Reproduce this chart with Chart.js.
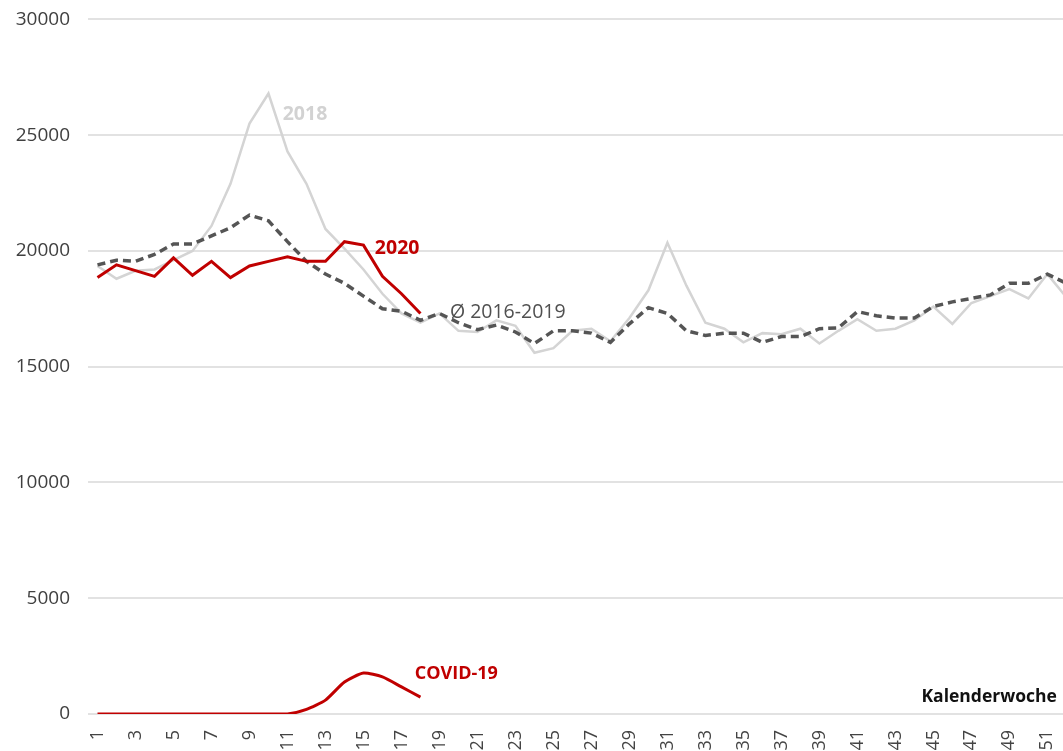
<!DOCTYPE html>
<html>
<head>
<meta charset="utf-8">
<script src="https://cdn.jsdelivr.net/npm/chart.js@4"></script>
<style>
  html, body { margin: 0; padding: 0; overflow: hidden; background: #fff; }
  #wrap { width: 1063px; height: 751px; overflow: hidden; position: relative; }
  canvas { position: absolute; left: 0; top: -10px; }
</style>
</head>
<body>
<div id="wrap"><canvas id="myChart" width="1104" height="785"></canvas></div>
<script>
// weeks 1..52
const weeks = []
for (let w = 1; w <= 52; w++) weeks.push(String(w))

const yTicks = [0, 5000, 10000, 15000, 20000, 25000, 30000]

const values2020 = [18850, 19400, 19150, 18900, 19700, 18950, 19550, 18850, 19350, 19550,
    19750, 19550, 19550, 20400, 20250, 18900, 18150, 17300]

const valuesCovid = [0, 0, 0, 0, 0, 0, 0, 0, 0, 0, 0, 200, 600, 1380, 1770, 1600, 1170, 730]

const valuesAvg = [19400, 19600, 19550, 19850, 20300, 20300, 20650, 21000, 21550, 21300,
    20400, 19550, 19000, 18600, 18050, 17500, 17400, 17000, 17300, 16900,
    16600, 16800, 16500, 16000, 16550, 16550, 16450, 16050, 16850, 17550,
    17300, 16550, 16350, 16450, 16450, 16050, 16300, 16300, 16640, 16680,
    17380, 17200, 17100, 17100, 17600, 17800, 17950, 18100, 18600, 18600,
    19000, 18600]

const values2018 = [19350, 18800, 19140, 19200, 19600, 20000, 21080, 22900, 25500, 26800,
    24300, 22900, 20950, 20100, 19200, 18150, 17300, 16900, 17300, 16550,
    16500, 17000, 16770, 15600, 15800, 16550, 16640, 16100, 17100, 18300,
    20350, 18500, 16900, 16640, 16050, 16450, 16400, 16640, 16000, 16550,
    17050, 16550, 16640, 17000, 17600, 16850, 17750, 18050, 18350, 17950,
    19000, 18000]

const fontName = "'Open Sans', sans-serif"

// text labels next to the lines
const notes = [
    { text: '2018', week: 10.75, value: 25900, color: '#d2d2d2', weight: 'bold', size: 19.5, align: 'left' },
    { text: '2020', week: 15.6, value: 20100, color: '#c00000', weight: 'bold', size: 19.5, align: 'left' },
    { text: 'Ø 2016-2019', week: 19.55, value: 17330, color: '#505050', weight: 'normal', size: 19.5, align: 'left' },
    { text: 'COVID-19', week: 17.7, value: 1720, color: '#c00000', weight: 'bold', size: 18, align: 'left' },
    { text: 'Kalenderwoche', week: 51.5, value: 730, color: '#111111', weight: 'bold', size: 17.5, align: 'right' }
]

const notesPlugin = {
    id: 'notes',
    afterDatasetsDraw(chart) {
        const ctx = chart.ctx
        const xs = chart.scales.x
        const ys = chart.scales.y
        const x0 = xs.getPixelForValue(0)
        const step = xs.getPixelForValue(1) - x0
        ctx.save()
        notes.forEach(n => {
            ctx.font = n.weight + ' ' + n.size + 'px ' + fontName
            ctx.fillStyle = n.color
            ctx.textAlign = n.align
            ctx.textBaseline = 'middle'
            ctx.fillText(n.text, x0 + (n.week - 1) * step, ys.getPixelForValue(n.value))
        })
        ctx.restore()
    }
}

const myChart = new Chart(document.getElementById('myChart'), {
    type: 'line',
    data: {
        labels: weeks,
        datasets: [{
            label: '2020',
            data: values2020,
            borderColor: '#c00000',
            borderWidth: 3,
            pointRadius: 0,
            tension: 0
        }, {
            label: 'COVID-19',
            data: valuesCovid,
            borderColor: '#c00000',
            borderWidth: 3,
            pointRadius: 0,
            tension: 0.2
        }, {
            label: 'Ø 2016-2019',
            data: valuesAvg,
            borderColor: '#555555',
            borderWidth: 3.5,
            borderDash: [8, 5],
            pointRadius: 0,
            tension: 0
        }, {
            label: '2018',
            data: values2018,
            borderColor: '#d4d4d4',
            borderWidth: 2.5,
            pointRadius: 0,
            tension: 0
        }]
    },
    options: {
        responsive: false,
        animation: false,
        layout: { padding: { top: 8, right: 4, left: 0, bottom: 0 } },
        plugins: {
            legend: { display: false },
            tooltip: { enabled: false }
        },
        scales: {
            x: {
                offset: true,
                grid: { display: false, drawTicks: false },
                border: { display: false },
                afterFit(scale) { scale.height = 61 },
                ticks: {
                    autoSkip: false,
                    minRotation: 90,
                    maxRotation: 90,
                    padding: 16,
                    color: '#444444',
                    font: { family: fontName, size: 18 },
                    callback: function (val, i) { return i % 2 === 0 ? weeks[i] : '' }
                }
            },
            y: {
                min: 0,
                max: 30000,
                afterFit(scale) { scale.width = 88 },
                afterBuildTicks(scale) { scale.ticks = yTicks.map(v => ({ value: v })) },
                grid: { color: '#e2e2e2', lineWidth: 2, drawTicks: false },
                border: { display: false },
                ticks: {
                    padding: 18,
                    color: '#404040',
                    font: { family: fontName, size: 19 },
                    callback: function (v) { return String(v) }
                }
            }
        }
    },
    plugins: [notesPlugin]
})
</script>
</body>
</html>
